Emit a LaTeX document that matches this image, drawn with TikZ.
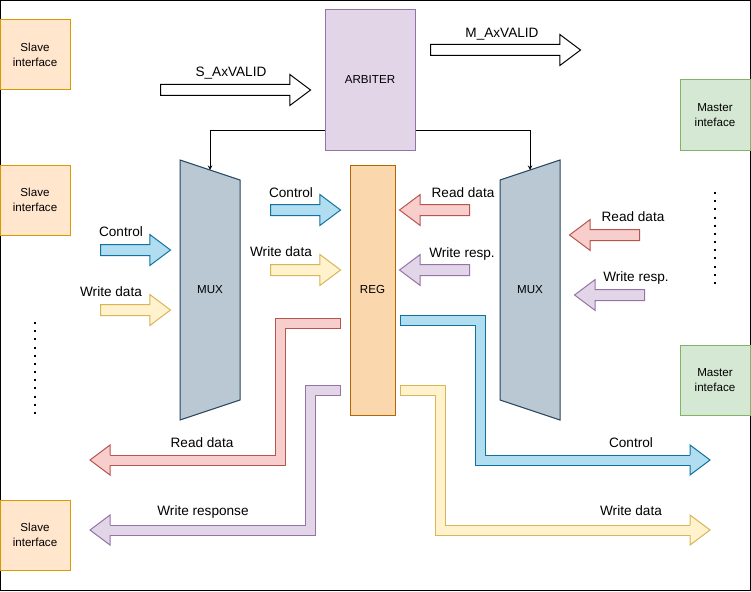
\documentclass[tikz,border=0pt]{standalone}
\usepackage{fontspec}
\setmainfont{Liberation Sans}
\usepackage{tikz}
\usetikzlibrary{shapes,arrows,positioning}
\definecolor{bluefill}{HTML}{B1DDF0}
\definecolor{blueline}{HTML}{10739E}
\definecolor{yellowfill}{HTML}{FFF2CC}
\definecolor{yellowline}{HTML}{D6B656}
\definecolor{redfill}{HTML}{F8CECC}
\definecolor{redline}{HTML}{B85450}
\definecolor{purplefill}{HTML}{E1D5E7}
\definecolor{purpleline}{HTML}{9673A6}
\definecolor{slavefill}{HTML}{FFE6CC}
\definecolor{slaveline}{HTML}{D79B00}
\definecolor{masterfill}{HTML}{D5E8D4}
\definecolor{masterline}{HTML}{82B366}
\definecolor{regfill}{HTML}{FAD7AC}
\definecolor{regline}{HTML}{B46504}
\definecolor{muxfill}{HTML}{BAC8D3}
\definecolor{muxline}{HTML}{23445D}
\newcommand{\boxfont}{\fontsize{11.6}{14.6}\selectfont}
\newcommand{\lblfont}{\fontsize{13.6}{16}\selectfont}

\begin{document}
\begin{tikzpicture}[
    x=1pt, y=-1pt,
    box/.style={rectangle, draw, line width=1pt, minimum width=70pt, minimum height=70pt, align=center, font=\boxfont},
    slave/.style={box, draw=slaveline, fill=slavefill},
    master/.style={box, draw=masterline, fill=masterfill},
    mux/.style={draw=muxline, fill=muxfill, line width=1pt},
    fatarrow/.style={single arrow, line width=1pt, minimum height=70pt, inner xsep=0pt, inner ysep=5pt, single arrow head extend=10pt, single arrow tip angle=73.74, anchor=tail},
    leftward/.style={shape border rotate=180},
    blue/.style={draw=blueline, fill=bluefill},
    yellow/.style={draw=yellowline, fill=yellowfill},
    red/.style={draw=redline, fill=redfill},
    purple/.style={draw=purpleline, fill=purplefill},
    fatline/.style={line width=1pt, double distance=9pt, line cap=rect},
    fathead/.style={line width=1pt},
    dotline/.style={line width=2pt, dash pattern=on 2pt off 6.17pt},
    lbl/.style={font=\lblfont, anchor=base, inner sep=0pt},
    link/.style={draw, ->, >=stealth, line width=1pt}
]
    \useasboundingbox (0,0) rectangle (751,591);
    \draw[line width=1pt] (0.5,0.5) rectangle (750,590);

    \node[slave] (slave1) at (35,55) {Slave\\interface};
    \node[slave] (slave2) at (35,200) {Slave\\interface};
    \node[slave] (slave3) at (35,535) {Slave\\interface};
    \node[master] (master1) at (715,115) {Master\\inteface};
    \node[master] (master2) at (715,380) {Master\\inteface};
    \draw[dotline] (35,322) -- (35,420);
    \draw[dotline] (715,192) -- (715,290);

    \node[box, draw=purpleline, fill=purplefill, minimum width=90pt, minimum height=140pt] (arb) at (370,80) {ARBITER};
    \node[box, draw=regline, fill=regfill, minimum width=45pt, minimum height=250pt] (reg) at (372.5,290) {REG};

    \draw[mux] (180,160) -- coordinate[midway] (lmtop) (240,180) -- (240,400) -- (180,420) -- cycle;
    \draw[mux] (500,180) -- coordinate[midway] (rmtop) (560,160) -- (560,420) -- (500,400) -- cycle;
    \node[font=\boxfont] (muxl) at (210,290) {MUX};
    \node[font=\boxfont] (muxr) at (530,290) {MUX};

    \draw[link] ([yshift=20pt]arb.south west) -| (lmtop);
    \draw[link] ([yshift=20pt]arb.south east) -| (rmtop);

    \node[fatarrow, draw=black, fill=white, minimum height=150pt] (sval) at (160,90) {};
    \node[fatarrow, draw=black, fill=white, minimum height=150pt] (mval) at (430,50) {};
    \node[lbl] at (231,77) {S\_AxVALID};
    \node[lbl] at (502,38) {M\_AxVALID};

    \node[fatarrow, blue] (ctlin) at (100,250) {};
    \node[fatarrow, yellow] (wdin) at (100,310) {};
    \node[fatarrow, blue] (ctlreg) at (270,210) {};
    \node[fatarrow, yellow] (wdreg) at (270,270) {};
    \node[fatarrow, leftward, red] (rdreg) at (470,210) {};
    \node[fatarrow, leftward, purple] (wrreg) at (470,270) {};
    \node[fatarrow, leftward, red] (rdin) at (640,235) {};
    \node[fatarrow, leftward, purple] (wrin) at (645,295) {};
    \node[lbl] at (121,236) {Control};
    \node[lbl] at (111,296) {Write data};
    \node[lbl] at (291,197) {Control};
    \node[lbl] at (281,256) {Write data};
    \node[lbl] at (463,197) {Read data};
    \node[lbl] at (462,257) {Write resp.};
    \node[lbl] at (633,221) {Read data};
    \node[lbl] at (636,281) {Write resp.};

    \coordinate (rdout) at (335,323);
    \coordinate (rdend) at (110,460);
    \coordinate (wrout) at (335,390);
    \coordinate (wrend) at (110,530);
    \coordinate (ctlout) at (405.5,320);
    \coordinate (ctlend) at (690,460);
    \coordinate (wdout) at (405.5,390);
    \coordinate (wdend) at (690,530);

    \draw[fatline, draw=redline, double=redfill] (rdout) -| (280,460) -- (rdend);
    \filldraw[fathead, red] (rdend) ++(0,-5) -- ++(0,-10) -- ++(-20,15) -- ++(20,15) -- ++(0,-10);
    \draw[fatline, draw=purpleline, double=purplefill] (wrout) -| (310,530) -- (wrend);
    \filldraw[fathead, purple] (wrend) ++(0,-5) -- ++(0,-10) -- ++(-20,15) -- ++(20,15) -- ++(0,-10);
    \draw[fatline, draw=blueline, double=bluefill] (ctlout) -| (480,460) -- (ctlend);
    \filldraw[fathead, blue] (ctlend) ++(0,-5) -- ++(0,-10) -- ++(20,15) -- ++(-20,15) -- ++(0,-10);
    \draw[fatline, draw=yellowline, double=yellowfill] (wdout) -| (440,530) -- (wdend);
    \filldraw[fathead, yellow] (wdend) ++(0,-5) -- ++(0,-10) -- ++(20,15) -- ++(-20,15) -- ++(0,-10);
    \node[lbl] at (202,447) {Read data};
    \node[lbl] at (203,515) {Write response};
    \node[lbl] at (631,447) {Control};
    \node[lbl] at (631,515) {Write data};
\end{tikzpicture}
\end{document}
